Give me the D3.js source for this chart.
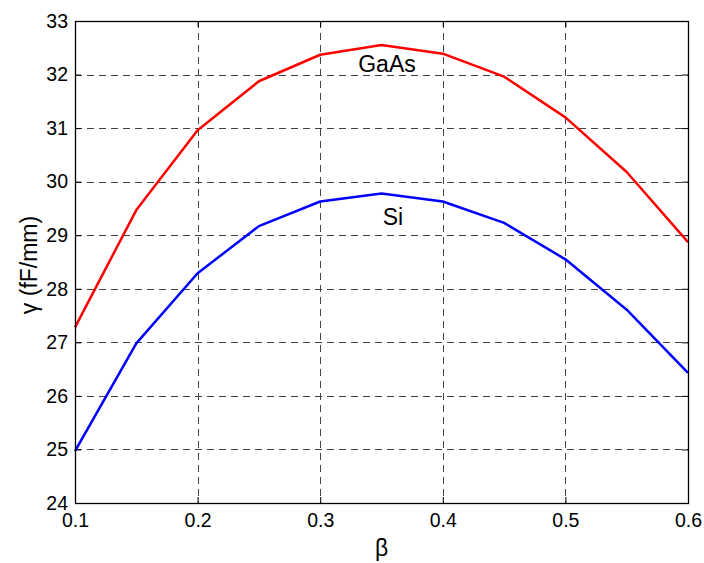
<!DOCTYPE html>
<html>
<head>
<meta charset="utf-8">
<script src="https://cdn.jsdelivr.net/npm/d3@7"></script>
<style>
  body { margin: 0; background: #fff; }
  text { font-family: "Liberation Sans", Arial, sans-serif; fill: #000; }
</style>
</head>
<body>
<div id="vis"></div>
<script>
// data
const betas = [0.1, 0.15, 0.2, 0.25, 0.3, 0.35, 0.4, 0.45, 0.5, 0.55, 0.6];
const gaas = [27.28, 29.47, 30.96, 31.875, 32.37, 32.55, 32.39, 31.96, 31.2, 30.18, 28.87];
const si = [24.97, 26.98, 28.29, 29.17, 29.63, 29.78, 29.63, 29.23, 28.55, 27.61, 26.43];
const xTicks = [0.1, 0.2, 0.3, 0.4, 0.5, 0.6];
const yTicks = [24, 25, 26, 27, 28, 29, 30, 31, 32, 33];
const seriesNames = ["GaAs", "Si"];
const seriesColors = ["#ff0000", "#0000ff"];
// label anchors in data units
const labelBeta = [0.331, 0.351];
const labelGamma = [32.04, 29.2];

const W = 704, H = 563;
const margin = { top: 21, right: 16, bottom: 60, left: 75 };
const width = W - margin.left - margin.right;
const height = H - margin.top - margin.bottom;

const svg = d3.select('#vis').append('svg')
  .attr('width', W).attr('height', H);

const g = svg.append('g')
  .attr('transform', `translate(${margin.left},${margin.top})`);

const x = d3.scaleLinear().domain([0.1, 0.6]).range([0, width]);
const y = d3.scaleLinear().domain([24, 33]).range([height, 0]);

// grid
g.append('g').selectAll('line')
  .data(xTicks.slice(1, -1)).enter().append('line')
  .attr('x1', d => Math.round(x(d)) + 0.5).attr('x2', d => Math.round(x(d)) + 0.5)
  .attr('y1', 0).attr('y2', height)
  .attr('stroke', '#444').attr('stroke-dasharray', '7,5');
g.append('g').selectAll('line')
  .data(yTicks.slice(1, -1)).enter().append('line')
  .attr('y1', d => Math.round(y(d)) + 0.5).attr('y2', d => Math.round(y(d)) + 0.5)
  .attr('x1', 0).attr('x2', width)
  .attr('stroke', '#444').attr('stroke-dasharray', '7,5');

// axes, ticks pointing inward
const fs = '19.5px';
const gx = g.append('g').attr('transform', `translate(0,${height})`)
  .call(d3.axisBottom(x).tickValues(xTicks).tickFormat(d3.format('.1f'))
    .tickSizeInner(-6).tickSizeOuter(0).tickPadding(10));
const gy = g.append('g')
  .call(d3.axisLeft(y).tickValues(yTicks).tickFormat(d3.format('d'))
    .tickSizeInner(-6).tickSizeOuter(0).tickPadding(7));
g.append('g')
  .call(d3.axisTop(x).tickValues(xTicks).tickFormat('').tickSizeInner(-6).tickSizeOuter(0));
g.append('g').attr('transform', `translate(${width},0)`)
  .call(d3.axisRight(y).tickValues(yTicks).tickFormat('').tickSizeInner(-6).tickSizeOuter(0));

g.selectAll('.domain').remove();
g.selectAll('.tick line').attr('stroke', '#000');
g.selectAll('.tick text').style('font-size', fs).attr('fill', '#000')
  .style('font-family', '"Liberation Sans", Arial, sans-serif');

// lines
const line = d3.line().x((d, i) => x(betas[i])).y(d => y(d));
[gaas, si].forEach((vals, i) => {
  g.append('path')
    .datum(vals)
    .attr('d', line)
    .attr('fill', 'none')
    .attr('stroke', seriesColors[i])
    .attr('stroke-width', 2.5)
    .attr('stroke-linejoin', 'round');
});

// box
g.append('rect')
  .attr('x', 0.5).attr('y', 0.5)
  .attr('width', width).attr('height', height)
  .attr('fill', 'none').attr('stroke', '#000').attr('stroke-width', 1.3);

// series labels
seriesNames.forEach((name, i) => {
  g.append('text')
    .attr('x', x(labelBeta[i]))
    .attr('y', y(labelGamma[i]))
    .style('font-size', '23px')
    .text(name);
});

// axis titles
svg.append('text')
  .attr('x', margin.left + width / 2)
  .attr('y', 556)
  .attr('text-anchor', 'middle')
  .style('font-size', '23px')
  .text('β');

svg.append('text')
  .attr('transform', `translate(37,${margin.top + height / 2 + 3}) rotate(-90)`)
  .attr('text-anchor', 'middle')
  .style('font-size', '23px')
  .text('γ (fF/mm)');
</script>
</body>
</html>
